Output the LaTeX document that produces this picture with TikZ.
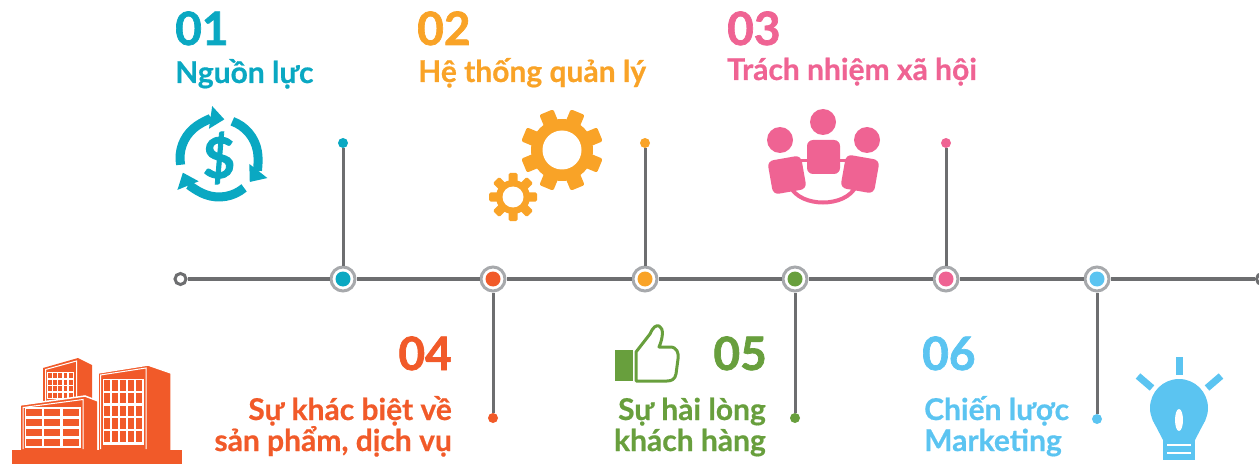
\documentclass[tikz,border=0pt]{standalone}
\usepackage{fontspec}
\setmainfont{Lato}
\newfontfamily\numfont{Lato}[BoldFeatures={FakeBold=1.5}]
\newfontfamily\labelfont{Lato}[BoldFeatures={FakeBold=0.6}]
\usetikzlibrary{positioning, arrows.meta}

\definecolor{cteal}{HTML}{0AA8C2}
\definecolor{corange}{HTML}{F9A327}
\definecolor{cpink}{HTML}{EF6393}
\definecolor{cred}{HTML}{F15A29}
\definecolor{cgreen}{HTML}{689F3D}
\definecolor{csky}{HTML}{5BC4F1}
\definecolor{railgray}{HTML}{6D6E70}
\definecolor{ringgray}{HTML}{A7A9AC}

\tikzset{
  num/.style={font=\numfont\bfseries\fontsize{46}{46}\selectfont, inner sep=0pt},
  title/.style={font=\labelfont\bfseries\fontsize{30}{30}\selectfont, inner sep=0pt},
  rail/.style={draw=railgray, line width=4pt},
  stem/.style={draw=railgray, line width=3pt},
  hub/.style={circle, draw=ringgray, line width=3pt, fill=white, minimum size=24pt, inner sep=0pt,
    path picture={\fill[#1] (path picture bounding box.center) circle (7.5pt);}},
  railend/.style={circle, draw=railgray, line width=3pt, fill=white, minimum size=11pt, inner sep=0pt},
  tipdot/.style={circle, fill=#1, minimum size=10pt, inner sep=0pt},
  swirl/.style={draw=cteal, line width=9pt, -{Triangle[length=14pt, width=22pt]}},
}

\begin{document}
\begin{tikzpicture}[x=1pt, y=-1pt]
\useasboundingbox (0,0) rectangle (1259,468);

% --- timeline ---
\node[railend] (e0) at (180.5,279) {};
\node[railend] (e7) at (1262,279) {};
\node[hub=cteal]   (d1) at (343,279) {};
\node[hub=cred]    (d2) at (493,279) {};
\node[hub=corange] (d3) at (645,279) {};
\node[hub=cgreen]  (d4) at (795,279) {};
\node[hub=cpink]   (d5) at (946,279) {};
\node[hub=csky]    (d6) at (1097,279) {};

\node[tipdot=cteal]   (t1) at (343,143) {};
\node[tipdot=cred]    (t2) at (493,418) {};
\node[tipdot=corange] (t3) at (645,143) {};
\node[tipdot=cgreen]  (t4) at (795,418) {};
\node[tipdot=cpink]   (t5) at (946,143) {};
\node[tipdot=csky]    (t6) at (1097,419) {};

\foreach \a/\b in {e0/d1, d1/d2, d2/d3, d3/d4, d4/d5, d5/d6, d6/e7}
  \draw[rail] (\a) -- (\b);
\foreach \i in {1,...,6}
  \draw[stem] (d\i) -- (t\i);

% --- labels ---
\node[num, text=cteal, anchor=base west] (n1) at (175,45) {01};
\node[title, text=cteal, anchor=base west] (h1) at (175,83) {Nguồn lực};
\node[num, text=corange, anchor=base west] (n2) at (417,45) {02};
\node[title, text=corange, anchor=base west] (h2) at (418,82) {Hệ thống quản lý};
\node[num, text=cpink, anchor=base west] (n3) at (727,45) {03};
\node[title, text=cpink, anchor=base west] (h3) at (727,80) {Trách nhiệm xã hội};

\node[num, text=cred, anchor=base east] (n4) at (452,370) {04};
\node[title, text=cred, anchor=base east] (h4a) at (452,420) {Sự khác biệt về};
\node[title, text=cred, anchor=base east] (h4b) at (452,451) {sản phẩm, dịch vụ};
\node[num, text=cgreen, anchor=base east] (n5) at (767,370) {05};
\node[title, text=cgreen, anchor=base east] (h5a) at (766,420) {Sự hài lòng};
\node[title, text=cgreen, anchor=base east] (h5b) at (766,451) {khách hàng};
\node[num, text=csky, anchor=base west] (n6) at (922,370) {06};
\node[title, text=csky, anchor=base west] (h6a) at (924,420) {Chiến lược};
\node[title, text=csky, anchor=base west] (h6b) at (924,451) {Marketing};

% --- money cycle ---
\coordinate (cash) at (219,158);
\foreach \s in {190,70,-50}
  \draw[swirl] ([shift={(\s:39pt)}]cash) arc[start angle=\s, end angle=\s-108, radius=39pt];
\node[text=cteal, font=\numfont\bfseries\fontsize{56}{56}\selectfont] at (cash) {\$};

% --- gears ---
\fill[corange] (562,150) circle (31pt);
\foreach \a in {22.5,67.5,...,337.5}
  \fill[corange, rounded corners=2pt, shift={(562,150)}, rotate=\a] (-7.5,25) rectangle (7.5,41);
\fill[white] (562,150) circle (19.5pt);
\fill[corange] (513,197) circle (17pt);
\foreach \a in {0,45,...,315}
  \fill[corange, rounded corners=1.5pt, shift={(513,197)}, rotate=\a] (-4.5,13) rectangle (4.5,24);
\fill[white] (513,197) circle (10.5pt);

% --- people ---
\draw[cpink, line width=4pt] (790,186) .. controls (800,208) and (846,208) .. (856,186);
\draw[cpink, line width=3pt] (796,161) -- (852,161);
\fill[cpink] (823,122) circle (13pt);
\fill[cpink] (780,140) circle (13pt);
\fill[cpink] (867,140) circle (13pt);
\fill[cpink, rounded corners=6pt] (807,140) rectangle (840,174);
\fill[cpink, rounded corners=6pt, shift={(787,175)}, rotate=10] (-17,-17) rectangle (17,17);
\fill[cpink, rounded corners=6pt, shift={(860,174)}, rotate=-10] (-17,-17) rectangle (17,17);

% --- buildings ---
\fill[cred] (43,368) -- (78,358) -- (92,365) -- (92,404) -- (43,404) -- cycle;
\draw[white, line width=1pt] (45.5,402) -- (45.5,369.5) -- (76.5,361) -- (76.5,402);
\fill[white] (47,372) rectangle (74,399);
\foreach \c in {0,...,4}
  \foreach \r in {0,...,3}
    \fill[cred] (48+\c*5.2,373+\r*6.6) rectangle +(3.8,5);
\filldraw[fill=cred, draw=white, line width=1.5pt] (20,405) -- (85,396) -- (98,401) -- (98,452) -- (20,452) -- cycle;
\draw[white, line width=1pt] (23,449) -- (23,407.5) -- (83,399.5) -- (83,449);
\fill[white] (25,407) rectangle (81,448);
\foreach \c in {0,...,2}
  \foreach \r in {0,...,3}
    \fill[cred] (26+\c*18.3,409+\r*10) rectangle +(16,6.5);
\filldraw[fill=cred, draw=white, line width=1.5pt] (98,373) -- (148,365) -- (171,373) -- (171,452) -- (98,452) -- cycle;
\draw[white, line width=1pt] (100.5,449) -- (100.5,375) -- (146,368) -- (146,449);
\fill[white] (102.5,379) rectangle (144,445);
\foreach \c in {0,...,4}
  \foreach \r in {0,...,4}
    \fill[cred] (103.5+\c*8.1,380+\r*12.8) rectangle +(6,10.5);
\fill[cred] (12,450) rectangle (182,464);

% --- thumbs up ---
\fill[cgreen] (615,350) rectangle (633,381);
\draw[cgreen, line width=3pt, line join=round] (636,352) -- (650,334)
  .. controls (653,327) and (656,325) .. (659,326)
  .. controls (664,328) and (663,338) .. (659,347)
  -- (670,347) .. controls (677,347) and (679,353) .. (678,359)
  -- (676,374) .. controls (675,379) and (672,381) .. (667,381)
  -- (636,381) -- cycle;

% --- bulb ---
\fill[csky] (1176,357) rectangle (1183,375);
\draw[csky, line width=7pt] (1138,376) -- (1152,388);
\draw[csky, line width=7pt] (1221,376) -- (1207,388);
\fill[csky] (1179,408) circle (29pt);
\fill[csky] (1152.6,420) -- (1163,440) -- (1195,440) -- (1205.4,420) -- cycle;
\fill[csky] (1163,438) rectangle (1195,460);
\draw[white, line width=2.5pt] (1167,445) -- (1191,445) (1167,453) -- (1191,453);
\fill[white] (1179,420) ellipse (4pt and 11pt);
\end{tikzpicture}
\end{document}
